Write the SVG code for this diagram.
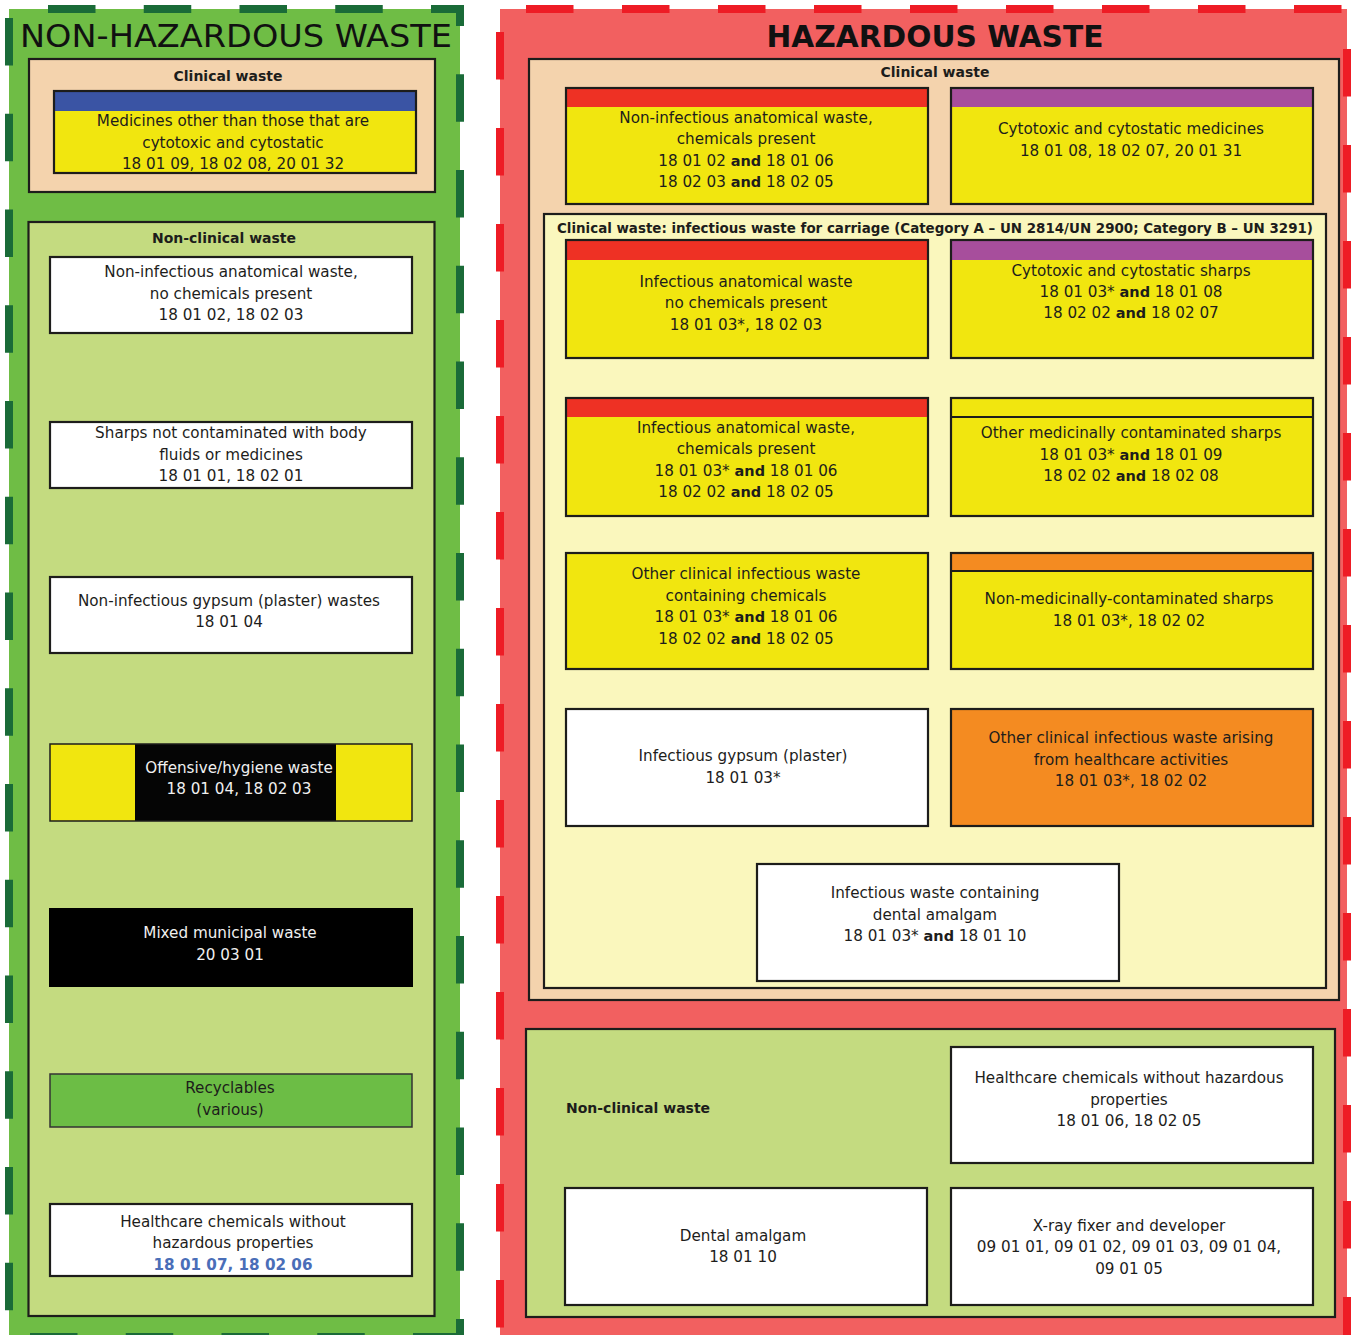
<svg xmlns="http://www.w3.org/2000/svg" width="1357" height="1335" viewBox="0 0 1357 1335">
<style>
.t{font-family:"DejaVu Sans","Liberation Sans",sans-serif;font-size:15.2px;fill:#1d1d1b;text-anchor:middle}
.w{fill:#f0f0f0}
.b{font-weight:bold;font-size:14.5px}
.hd{font-family:"DejaVu Sans","Liberation Sans",sans-serif;font-weight:bold;font-size:14px;fill:#1d1d1b;text-anchor:middle}
.box{stroke:#1d1d1b;stroke-width:2.2}
.nofill{fill:none}
.gd{stroke:#1a6b38;stroke-width:8;stroke-dasharray:47.5 48.25;fill:none}
.rd{stroke:#ee1c25;stroke-width:8;stroke-dasharray:47.5 48.5;fill:none}
.yel{fill:#f1e60f}
.wht{fill:#ffffff}
.peach{fill:#f4d3ad}
.lgreen{fill:#c4db80}
.lyel{fill:#faf7bd}
</style>

<g id="non-hazardous-waste">
  <rect x="9" y="9" width="451" height="1330" fill="#6fbd45"/>
  <line class="gd" x1="5" y1="9" x2="464" y2="9" stroke-dashoffset="52.75"/>
  <line class="gd" x1="460" y1="5" x2="460" y2="1341" stroke-dashoffset="26.5"/>
  <line class="gd" x1="9" y1="5" x2="9" y2="1341" stroke-dashoffset="82.75"/>
  <line class="gd" x1="5" y1="1337" x2="464" y2="1337" stroke-dashoffset="70.75"/>
  <text x="236" y="47" font-family="DejaVu Sans, Liberation Sans, sans-serif" font-size="32" fill="#111" text-anchor="middle" textLength="432" lengthAdjust="spacingAndGlyphs">NON-HAZARDOUS WASTE</text>
</g>

<g id="nh-clinical-waste">
  <rect class="peach box" x="29" y="59" width="406" height="133"/>
  <text class="hd" x="228" y="81">Clinical waste</text>
</g>

<g id="nh-medicines">
  <rect class="yel" x="54" y="91" width="362" height="82"/>
  <rect x="54" y="91" width="362" height="20" fill="#3a54a4"/>
  <rect class="box nofill" x="54" y="91" width="362" height="82"/>
  <text class="t" x="233" y="126">Medicines other than those that are</text>
  <text class="t" x="233" y="148">cytotoxic and cytostatic</text>
  <text class="t" x="233" y="169">18 01 09, 18 02 08, 20 01 32</text>
</g>

<g id="nh-non-clinical-waste">
  <rect class="lgreen box" x="28.5" y="222" width="406" height="1094"/>
  <text class="hd" x="224" y="243">Non-clinical waste</text>
</g>

<g id="nh-anatomical">
  <rect class="wht box" x="50" y="257" width="362" height="76"/>
  <text class="t" x="231" y="277">Non-infectious anatomical waste,</text>
  <text class="t" x="231" y="299">no chemicals present</text>
  <text class="t" x="231" y="320">18 01 02, 18 02 03</text>
</g>

<g id="nh-sharps">
  <rect class="wht box" x="50" y="422" width="362" height="66"/>
  <text class="t" x="231" y="438">Sharps not contaminated with body</text>
  <text class="t" x="231" y="460">fluids or medicines</text>
  <text class="t" x="231" y="481">18 01 01, 18 02 01</text>
</g>

<g id="nh-gypsum">
  <rect class="wht box" x="50" y="577" width="362" height="76"/>
  <text class="t" x="229" y="606">Non-infectious gypsum (plaster) wastes</text>
  <text class="t" x="229" y="627">18 01 04</text>
</g>

<g id="nh-offensive">
  <rect class="yel" x="50" y="744" width="362" height="77"/>
  <rect x="135" y="744" width="201" height="77" fill="#050505"/>
  <rect x="50" y="744" width="362" height="77" fill="none" stroke="#1d1d1b" stroke-width="1.5"/>
  <text class="t w" x="239" y="773">Offensive/hygiene waste</text>
  <text class="t w" x="239" y="794">18 01 04, 18 02 03</text>
</g>

<g id="nh-mixed-municipal">
  <rect x="49" y="908" width="364" height="79" fill="#000"/>
  <text class="t w" x="230" y="938">Mixed municipal waste</text>
  <text class="t w" x="230" y="960">20 03 01</text>
</g>

<g id="nh-recyclables">
  <rect x="50" y="1074" width="362" height="53" fill="#6cbd45" stroke="#333" stroke-width="1.5"/>
  <text class="t" x="230" y="1093">Recyclables</text>
  <text class="t" x="230" y="1115">(various)</text>
</g>

<g id="nh-healthcare-chemicals">
  <rect class="wht box" x="50" y="1204" width="362" height="72"/>
  <text class="t" x="233" y="1227">Healthcare chemicals without</text>
  <text class="t" x="233" y="1248">hazardous properties</text>
  <text class="t" x="233" y="1270" font-weight="bold" style="fill:#4a6eb8">18 01 07, 18 02 06</text>
</g>

<g id="hazardous-waste">
  <rect x="500" y="9" width="847" height="1330" fill="#f26060"/>
  <line class="rd" x1="496" y1="9" x2="1351" y2="9" stroke-dashoffset="66"/>
  <line class="rd" x1="500" y1="5" x2="500" y2="1341" stroke-dashoffset="69"/>
  <line class="rd" x1="1347" y1="5" x2="1347" y2="1341" stroke-dashoffset="52"/>
  <text x="935" y="47" font-family="DejaVu Sans, Liberation Sans, sans-serif" font-weight="bold" font-size="31" fill="#111" text-anchor="middle" textLength="337" lengthAdjust="spacingAndGlyphs">HAZARDOUS WASTE</text>
</g>

<g id="hz-clinical-waste">
  <rect class="peach box" x="529" y="59" width="810" height="941"/>
  <text class="hd" x="935" y="77">Clinical waste</text>
</g>

<g id="hz-non-infectious-anatomical">
  <rect class="yel" x="566" y="88" width="362" height="116"/>
  <rect x="566" y="88" width="362" height="19" fill="#ee3124"/>
  <rect class="box nofill" x="566" y="88" width="362" height="116"/>
  <text class="t" x="746" y="123">Non-infectious anatomical waste,</text>
  <text class="t" x="746" y="144">chemicals present</text>
  <text class="t" x="746" y="166">18 01 02 <tspan class="b">and</tspan> 18 01 06</text>
  <text class="t" x="746" y="187">18 02 03 <tspan class="b">and</tspan> 18 02 05</text>
</g>

<g id="hz-cytotoxic-medicines">
  <rect class="yel" x="951" y="88" width="362" height="116"/>
  <rect x="951" y="88" width="362" height="19" fill="#a74e9c"/>
  <rect class="box nofill" x="951" y="88" width="362" height="116"/>
  <text class="t" x="1131" y="134">Cytotoxic and cytostatic medicines</text>
  <text class="t" x="1131" y="156">18 01 08, 18 02 07, 20 01 31</text>
</g>

<g id="hz-infectious-carriage">
  <rect class="lyel box" x="544" y="214" width="782" height="774"/>
  <text class="hd" x="935" y="233" textLength="756" lengthAdjust="spacingAndGlyphs">Clinical waste: infectious waste for carriage (Category A – UN 2814/UN 2900; Category B – UN 3291)</text>
</g>

<g id="hz-infectious-anatomical">
  <rect class="yel" x="566" y="240" width="362" height="118"/>
  <rect x="566" y="240" width="362" height="20" fill="#ee3124"/>
  <rect class="box nofill" x="566" y="240" width="362" height="118"/>
  <text class="t" x="746" y="287">Infectious anatomical waste</text>
  <text class="t" x="746" y="308">no chemicals present</text>
  <text class="t" x="746" y="330">18 01 03*, 18 02 03</text>
</g>

<g id="hz-cytotoxic-sharps">
  <rect class="yel" x="951" y="240" width="362" height="118"/>
  <rect x="951" y="240" width="362" height="20" fill="#a74e9c"/>
  <rect class="box nofill" x="951" y="240" width="362" height="118"/>
  <text class="t" x="1131" y="276">Cytotoxic and cytostatic sharps</text>
  <text class="t" x="1131" y="297">18 01 03* <tspan class="b">and</tspan> 18 01 08</text>
  <text class="t" x="1131" y="318">18 02 02 <tspan class="b">and</tspan> 18 02 07</text>
</g>

<g id="hz-infectious-anatomical-chem">
  <rect class="yel" x="566" y="398" width="362" height="118"/>
  <rect x="566" y="398" width="362" height="19" fill="#ee3124"/>
  <rect class="box nofill" x="566" y="398" width="362" height="118"/>
  <text class="t" x="746" y="433">Infectious anatomical waste,</text>
  <text class="t" x="746" y="454">chemicals present</text>
  <text class="t" x="746" y="476">18 01 03* <tspan class="b">and</tspan> 18 01 06</text>
  <text class="t" x="746" y="497">18 02 02 <tspan class="b">and</tspan> 18 02 05</text>
</g>

<g id="hz-medicinal-sharps">
  <rect class="yel box" x="951" y="398" width="362" height="118"/>
  <line x1="951" y1="417" x2="1313" y2="417" stroke="#1d1d1b" stroke-width="2"/>
  <text class="t" x="1131" y="438">Other medicinally contaminated sharps</text>
  <text class="t" x="1131" y="460">18 01 03* <tspan class="b">and</tspan> 18 01 09</text>
  <text class="t" x="1131" y="481">18 02 02 <tspan class="b">and</tspan> 18 02 08</text>
</g>

<g id="hz-other-infectious-chem">
  <rect class="yel box" x="566" y="553" width="362" height="116"/>
  <text class="t" x="746" y="579">Other clinical infectious waste</text>
  <text class="t" x="746" y="601">containing chemicals</text>
  <text class="t" x="746" y="622">18 01 03* <tspan class="b">and</tspan> 18 01 06</text>
  <text class="t" x="746" y="644">18 02 02 <tspan class="b">and</tspan> 18 02 05</text>
</g>

<g id="hz-non-medicinal-sharps">
  <rect class="yel" x="951" y="553" width="362" height="116"/>
  <rect x="951" y="553" width="362" height="18" fill="#f48b21"/>
  <rect class="box nofill" x="951" y="553" width="362" height="116"/>
  <line x1="951" y1="571" x2="1313" y2="571" stroke="#1d1d1b" stroke-width="2"/>
  <text class="t" x="1129" y="604">Non-medicinally-contaminated sharps</text>
  <text class="t" x="1129" y="626">18 01 03*, 18 02 02</text>
</g>

<g id="hz-infectious-gypsum">
  <rect class="wht box" x="566" y="709" width="362" height="117"/>
  <text class="t" x="743" y="761">Infectious gypsum (plaster)</text>
  <text class="t" x="743" y="783">18 01 03*</text>
</g>

<g id="hz-other-infectious-healthcare">
  <rect class="box" x="951" y="709" width="362" height="117" fill="#f48b21"/>
  <text class="t" x="1131" y="743">Other clinical infectious waste arising</text>
  <text class="t" x="1131" y="765">from healthcare activities</text>
  <text class="t" x="1131" y="786">18 01 03*, 18 02 02</text>
</g>

<g id="hz-dental-amalgam-infectious">
  <rect class="wht box" x="757" y="864" width="362" height="117"/>
  <text class="t" x="935" y="898">Infectious waste containing</text>
  <text class="t" x="935" y="920">dental amalgam</text>
  <text class="t" x="935" y="941">18 01 03* <tspan class="b">and</tspan> 18 01 10</text>
</g>

<g id="hz-non-clinical-waste">
  <rect class="lgreen box" x="526" y="1029" width="809" height="288"/>
  <text class="hd" x="566" y="1113" style="text-anchor:start">Non-clinical waste</text>
</g>

<g id="hz-healthcare-chemicals">
  <rect class="wht box" x="951" y="1047" width="362" height="116"/>
  <text class="t" x="1129" y="1083">Healthcare chemicals without hazardous</text>
  <text class="t" x="1129" y="1105">properties</text>
  <text class="t" x="1129" y="1126">18 01 06, 18 02 05</text>
</g>

<g id="hz-dental-amalgam">
  <rect class="wht box" x="565" y="1188" width="362" height="117"/>
  <text class="t" x="743" y="1241">Dental amalgam</text>
  <text class="t" x="743" y="1262">18 01 10</text>
</g>

<g id="hz-xray">
  <rect class="wht box" x="951" y="1188" width="362" height="117"/>
  <text class="t" x="1129" y="1231">X-ray fixer and developer</text>
  <text class="t" x="1129" y="1252">09 01 01, 09 01 02, 09 01 03, 09 01 04,</text>
  <text class="t" x="1129" y="1274">09 01 05</text>
</g>
</svg>
